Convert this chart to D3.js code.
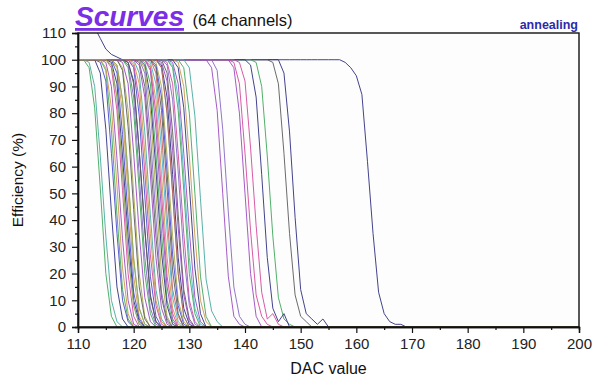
<!DOCTYPE html>
<html>
<head>
<meta charset="utf-8">
<script src="https://cdn.jsdelivr.net/npm/d3@7/dist/d3.min.js"></script>
<style>
  body { margin: 0; background: #fff; }
  text { font-family: "Liberation Sans", Arial, sans-serif; }
</style>
</head>
<body>
<svg id="chart" width="598" height="379"></svg>
<script>
// DAC scan range
var dacMin = 110, dacMax = 200;
var xTicks = [110, 120, 130, 140, 150, 160, 170, 180, 190, 200];
var yTicks = [0, 10, 20, 30, 40, 50, 60, 70, 80, 90, 100, 110];

// per channel: first DAC below the 100% plateau, then the falling efficiencies (0 afterwards)
var channelStart = [
  158, 147, 145, 142, 141, 139, 138, 138, 135, 134,
  130, 129, 128, 128, 127, 127, 126, 126, 126, 127,
  125, 125, 125, 124, 124, 124, 124, 123, 123, 123,
  123, 122, 122, 122, 122, 121, 121, 121, 120, 120,
  120, 119, 119, 119, 118, 118, 118, 117, 117, 117,
  116, 116, 116, 115, 115, 115, 114, 114, 112, 112,
  117, 119, 125, 116
];
var channelFall = [
  [99, 97, 94, 87, 62, 35, 13, 5, 2, 1, 1],
  [95, 73, 41, 14, 5, 3, 1, 3, 0],
  [99, 91, 65, 35, 12, 4, 2],
  [99, 90, 64, 34, 11, 3, 1],
  [98, 86, 57, 26, 7, 2, 5],
  [99, 92, 67, 38, 13, 3, 5, 1],
  [99, 91, 65, 36, 12, 4, 1],
  [97, 80, 50, 20, 4],
  [96, 74, 43, 15, 4, 1],
  [97, 81, 50, 19, 4, 1],
  [97, 79, 48, 18, 6, 2],
  [97, 80, 50, 19, 4],
  [99, 90, 64, 34, 10, 2],
  [97, 82, 53, 22, 5],
  [99, 91, 65, 36, 11, 2],
  [98, 86, 57, 26, 7, 1],
  [95, 73, 42, 14, 3],
  [99, 91, 65, 35, 10, 2],
  [98, 85, 58, 27, 8, 1],
  [97, 81, 51, 20, 5],
  [99, 92, 66, 37, 12, 2],
  [98, 86, 57, 26, 7, 1],
  [97, 80, 50, 20, 4],
  [95, 73, 42, 14, 4],
  [99, 90, 64, 34, 10, 2],
  [98, 86, 58, 27, 8, 1],
  [97, 81, 52, 21, 5],
  [96, 74, 43, 15, 3],
  [99, 91, 66, 36, 11, 2],
  [98, 85, 57, 26, 7, 1],
  [97, 80, 50, 19, 5],
  [95, 72, 41, 13, 3],
  [99, 91, 65, 35, 10, 2],
  [98, 86, 59, 28, 8, 1],
  [97, 81, 50, 20, 4],
  [95, 73, 42, 14, 3],
  [99, 90, 64, 34, 11, 2],
  [98, 86, 57, 26, 7, 1],
  [97, 79, 49, 19, 4],
  [99, 91, 65, 35, 10, 2],
  [98, 85, 58, 27, 8, 1],
  [97, 81, 51, 20, 5],
  [99, 92, 66, 37, 12, 2],
  [98, 86, 57, 26, 7, 1],
  [97, 81, 50, 20, 4],
  [96, 75, 44, 15, 3],
  [99, 91, 65, 35, 11, 2],
  [98, 85, 56, 25, 7, 1],
  [97, 80, 50, 19, 4],
  [95, 72, 41, 13, 3],
  [99, 91, 64, 34, 10, 2],
  [98, 86, 58, 28, 8, 1],
  [97, 81, 51, 20, 4],
  [96, 74, 42, 14, 3],
  [99, 90, 63, 33, 10, 1],
  [97, 82, 53, 22, 5],
  [95, 74, 43, 15, 3],
  [99, 92, 65, 35, 10, 2],
  [99, 90, 64, 34, 10, 2],
  [97, 82, 52, 20, 4],
  [98, 85, 57, 26, 7, 1],
  [99, 91, 66, 36, 11, 2],
  [97, 80, 50, 20, 4],
  [98, 86, 58, 27, 8, 1]
];
// the late channel starts above 100% at the low end of the scan (DAC 110..117)
var lateHead = [130, 122, 116, 112, 108, 104, 102, 101];

var palette = ["#2e2e80", "#9a48c0", "#3ea65a", "#46a8a0", "#d2489a", "#a8a84a",
               "#c8984a", "#5a5a5a", "#4a4ad0", "#8468c4", "#4ab4cc", "#c85a5a"];
var channelColor = [
  0, 0, 7, 2, 0, 4, 4, 1, 9, 1,
  3, 2, 6, 0, 1, 10, 7, 4, 9, 2,
  1, 0, 3, 11, 5, 8, 7, 1, 10, 6,
  4, 9, 2, 0, 5, 3, 7, 1, 8, 6,
  4, 2, 0, 9, 5, 7, 1, 3, 6, 8,
  0, 10, 4, 2, 1, 6, 0, 8, 3, 2,
  5, 7, 11, 5
];

var W = 598, H = 379;
var m = { left: 78, right: 19, top: 33, bottom: 52 };

var svg = d3.select('#chart');
var x = d3.scaleLinear().domain([dacMin, dacMax]).range([m.left, W - m.right]);
var y = d3.scaleLinear().domain([0, 110]).range([H - m.bottom, m.top]);

var dacs = d3.range(dacMin, dacMax + 1);
var series = channelStart.map(function(s, c){
  var fall = channelFall[c];
  return dacs.map(function(d){
    var v;
    if (c === 0 && d - dacMin < lateHead.length) v = lateHead[d - dacMin];
    else if (d < s) v = 100;
    else if (d - s < fall.length) v = fall[d - s];
    else v = 0;
    return [d, v];
  });
});

svg.append('rect')
  .attr('x', m.left).attr('y', m.top)
  .attr('width', x.range()[1] - m.left).attr('height', y(0) - m.top)
  .attr('fill', '#fdfdfd');

svg.append('clipPath').attr('id', 'plotclip').append('rect')
  .attr('x', m.left).attr('y', m.top)
  .attr('width', x.range()[1] - m.left).attr('height', y(0) - m.top + 2);

var line = d3.line().x(function(d){ return x(d[0]); }).y(function(d){ return y(d[1]); });

svg.append('g').attr('clip-path', 'url(#plotclip)')
  .selectAll('path.curve').data(series).enter().append('path')
  .attr('class', 'curve')
  .attr('d', line)
  .attr('fill', 'none')
  .attr('stroke', function(d, i){ return palette[channelColor[i]]; })
  .attr('stroke-width', 0.9)
  .attr('stroke-linejoin', 'round');

// frame
svg.append('rect')
  .attr('x', m.left).attr('y', m.top)
  .attr('width', x.range()[1] - m.left).attr('height', y(0) - m.top)
  .attr('fill', 'none').attr('stroke', '#111').attr('stroke-width', 1.4);

// axes: major + minor ticks
svg.append('g').attr('transform', 'translate(0,' + y(0) + ')')
  .call(d3.axisBottom(x).tickValues(xTicks).tickSize(6).tickPadding(5));
svg.append('g').attr('transform', 'translate(0,' + y(0) + ')')
  .call(d3.axisBottom(x).tickValues(d3.range(115, 200, 10)).tickSize(3).tickFormat(''));
svg.append('g').attr('transform', 'translate(' + m.left + ',0)')
  .call(d3.axisLeft(y).tickValues(yTicks).tickSize(6).tickPadding(6));
svg.append('g').attr('transform', 'translate(' + m.left + ',0)')
  .call(d3.axisLeft(y).tickValues(d3.range(5, 110, 10)).tickSize(3).tickFormat(''));

svg.selectAll('.domain').attr('stroke', '#111').attr('stroke-width', 1.4);
svg.selectAll('.tick line').attr('stroke', '#111').attr('stroke-width', 1.2);
svg.selectAll('.tick text').attr('font-size', 15).attr('fill', '#222')
  .style('font-family', '"Liberation Sans", Arial, sans-serif');

// titles
var title = svg.append('text').attr('x', 75).attr('y', 26);
title.append('tspan').text('Scurves')
  .attr('font-size', 28).attr('font-weight', 'bold').attr('font-style', 'italic')
  .attr('fill', '#7a2ee6').attr('text-decoration', 'underline');
title.append('tspan').text(' (64 channels)').attr('font-size', 16.5).attr('fill', '#111').attr('dx', 4);

svg.append('text').attr('x', 578).attr('y', 29).attr('text-anchor', 'end')
  .attr('font-size', 12.5).attr('font-weight', 'bold').attr('fill', '#2c2ca8')
  .text('annealing');

svg.append('text').attr('transform', 'translate(23,' + y(55) + ') rotate(-90)')
  .attr('text-anchor', 'middle').attr('font-size', 15.5).attr('fill', '#111')
  .text('Efficiency (%)');

svg.append('text').attr('x', (m.left + x.range()[1]) / 2).attr('y', 374)
  .attr('text-anchor', 'middle').attr('font-size', 16).attr('fill', '#111')
  .text('DAC value');
</script>
</body>
</html>
